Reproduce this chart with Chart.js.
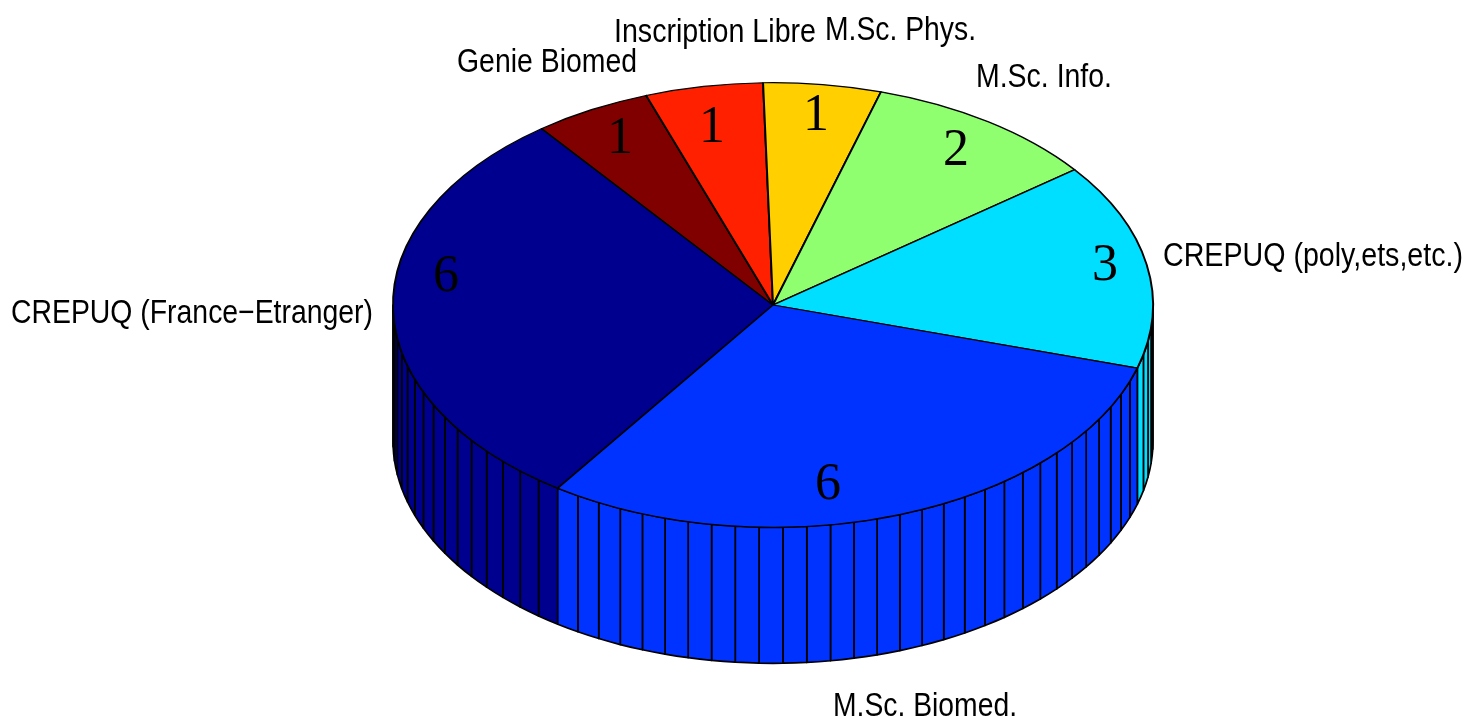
<!DOCTYPE html>
<html>
<head>
<meta charset="utf-8">
<style>html,body{margin:0;padding:0;background:#fff}canvas{display:block}</style>
<script src="https://cdn.jsdelivr.net/npm/chart.js@4"></script>
</head>
<body>
<canvas id="c" width="1466" height="717"></canvas>
<script>
const categories = ['CREPUQ (France\u2212Etranger)','Genie Biomed','Inscription Libre','M.Sc. Phys.','M.Sc. Info.','CREPUQ (poly,ets,etc.)','M.Sc. Biomed.'];
const counts = [6,1,1,1,2,3,6];
const sliceColors = ['#00008F','#800000','#FF2000','#FFCF00','#8FFF70','#00DFFF','#0033FF'];

const TILT = 0.585, DEPTH = 136, FACETS = 100;
// text placement: [left, baseline, width]
const nameSpots = [[11,323,362],[457,72,180],[614,42,202],[825,40,151],[976,87,136],[1163,266,300],[833,716,184]];
// value numerals: [centre x, baseline]
const numSpots = [[446,291],[620,153],[712,142],[816,130],[956,165],[1105,280],[828,499]];

const pie3d = {
  id:'pie3d',
  beforeDatasetsDraw(chart){
    const ctx = chart.ctx, arcs = chart.getDatasetMeta(0).data, TAU = Math.PI*2;
    const step = TAU/FACETS;
    ctx.save();
    ctx.strokeStyle = '#000'; ctx.lineWidth = 1.7; ctx.lineJoin='round';
    arcs.forEach(arc=>{
      const n = Math.round((arc.endAngle-arc.startAngle)/step);
      for(let i=0;i<n;i++){
        let a = arc.startAngle+i*step, b = a+step;
        a = ((a%TAU)+TAU)%TAU; b = a+step;
        if(a>=Math.PI-1e-6 && b<=TAU+1e-6) continue;
        if(a<Math.PI && b>Math.PI) b=Math.PI;
        if(a>=Math.PI && b>TAU){a=TAU;}
        const R=arc.outerRadius, x=arc.x, y=arc.y;
        ctx.beginPath();
        ctx.ellipse(x,y,R,R*TILT,0,a,b,false);
        ctx.ellipse(x,y+DEPTH,R,R*TILT,0,b,a,true);
        ctx.closePath();
        ctx.fillStyle = arc.options.backgroundColor;
        ctx.fill(); ctx.stroke();
      }
    });
    ctx.restore();
    // squash the library's own disc into the tilted top face
    const cy = arcs[0].y;
    ctx.save();
    ctx.translate(0,cy); ctx.scale(1,TILT); ctx.translate(0,-cy);
  },
  afterDatasetsDraw(chart){
    const ctx = chart.ctx;
    ctx.restore();
    ctx.save();
    ctx.fillStyle='#000'; ctx.textBaseline='alphabetic';
    ctx.textAlign='left'; ctx.font='33.5px "Liberation Sans", Arial, sans-serif';
    categories.forEach((t,i)=>{const s=nameSpots[i]; ctx.fillText(t,s[0],s[1],s[2]);});
    ctx.textAlign='center'; ctx.font='52px "Liberation Serif", "Times New Roman", serif';
    counts.forEach((v,i)=>{const s=numSpots[i]; ctx.fillText(String(v),s[0],s[1]);});
    ctx.restore();
  }
};

new Chart(document.getElementById('c'),{
  type:'pie',
  data:{labels:categories,datasets:[{data:counts,backgroundColor:sliceColors,borderColor:'#000',borderWidth:2,borderJoinStyle:'round'}]},
  options:{
    responsive:false,animation:false,
    radius:380,rotation:-145.5,
    layout:{padding:{left:80,bottom:107}},
    plugins:{legend:{display:false},tooltip:{enabled:false},title:{display:false}}
  },
  plugins:[pie3d]
});
</script>
</body>
</html>
